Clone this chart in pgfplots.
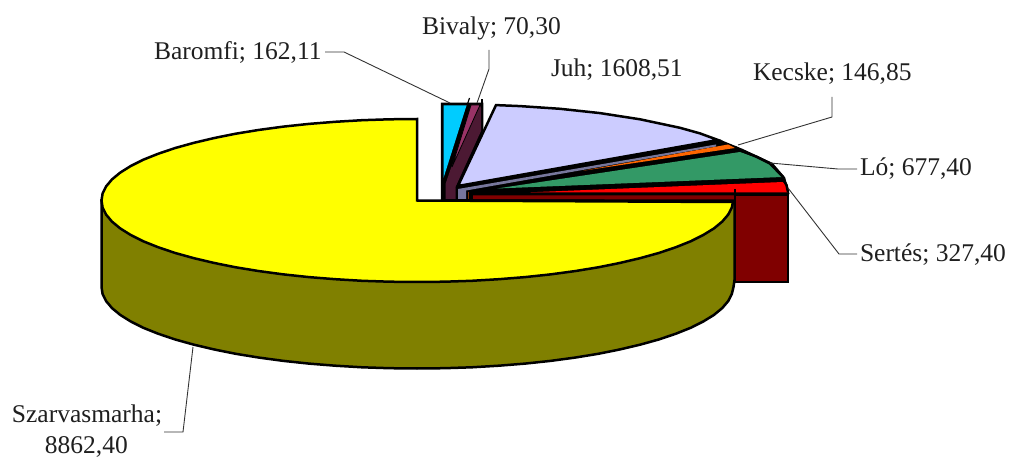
\documentclass[border=0pt]{standalone}
\usepackage{pgfplots}
\pgfplotsset{compat=1.18}
\usepackage{fontspec}
\setmainfont{Liberation Serif}
\definecolor{cCyan}{HTML}{00CCFF}
\definecolor{cMag}{HTML}{993366}
\definecolor{cMagD}{HTML}{4C1933}
\definecolor{cLav}{HTML}{CCCCFF}
\definecolor{cLavD}{HTML}{77779C}
\definecolor{cOr}{HTML}{FF6600}
\definecolor{cOrD}{HTML}{7F3300}
\definecolor{cGr}{HTML}{339966}
\definecolor{cDR}{HTML}{800000}
\definecolor{cOl}{HTML}{808000}
\definecolor{cYe}{RGB}{255,255,0}
\definecolor{cRe}{RGB}{255,0,0}
\tikzset{
  poly/.style={draw=black, line width=2.5pt, line join=miter},
  lead/.style={draw=black!80, line width=0.9pt, line join=miter},
  lab/.style={anchor=base west, inner sep=0pt, outer sep=0pt, text=black!88, font=\fontsize{25.5}{30}\selectfont},
}
\begin{document}
\begin{tikzpicture}
\begin{axis}[
  hide axis, scale only axis, width=1010pt, height=457pt,
  xmin=0, xmax=1010, ymin=0, ymax=457, y dir=reverse, clip=false,
]
% black base of the far left group
\addplot[poly, fill=black] coordinates {(442,104) (482,104) (482,130) (456,187) (456,200) (442,200)} -- cycle;
\addplot[draw=black, line width=1.2pt] coordinates {(467.5,104) (469.5,98)};
\addplot[draw=black, line width=1.2pt] coordinates {(482,104) (482,99)};
% Baromfi
\addplot[fill=cCyan, draw=none] coordinates {(443.5,105.5) (466.5,105.5) (443.5,178)} -- cycle;
% Bivaly side
\addplot[fill=cMagD, draw=none] coordinates {(445.5,184) (451,168) (480,105.5) (481,108) (481,131) (455.5,187) (455.5,199) (445.5,199)} -- cycle;
% Bivaly top
\addplot[fill=cMag, draw=black, line width=0.8pt] coordinates {(471,105) (480,105) (452,167)} -- cycle;
% black base of the right group
\addplot[poly, fill=black] coordinates {(458,186) (720,141) (742,150) (772,164) (784,178) (788,193) (735,200) (458,200)} -- cycle;
% Juh side
\addplot[fill=cLavD, draw=none] coordinates {(458,189) (716,144.5) (716,146.5) (466,190.5) (466,199) (458,199)} -- cycle;
\addplot[draw=cOrD, line width=0.8pt] coordinates {(468.5,192) (468.5,199)};
% Juh top
\addplot[poly, fill=cLav] coordinates {(458,186) (496,105.1) (520,106.1) (560,108.8) (600,113.1) (640,119.3) (680,127.8) (700,133.4) (718,140)} -- cycle;
% Kecske
\addplot[fill=cOr, draw=none] coordinates {(583,170.7) (728,144.5) (735,148)} -- cycle;
% Lo
\addplot[fill=cGr, draw=none] coordinates {(497,188.5) (740,152) (757,158) (770,164.5) (782,177)} -- cycle;
\addplot[draw=black, line width=2.5pt] coordinates {(735,147) (740,150) (757,157) (770,163.5) (783,177)};
% Sertes top
\addplot[fill=cRe, draw=none] coordinates {(530,192.3) (783,182) (786,186) (787.5,192.5)} -- cycle;
\addplot[draw=black, line width=2.5pt] coordinates {(783,179) (786.5,185) (788,192)};
% Sertes side
\addplot[fill=cDR, draw=none] coordinates {(473,195.5) (735,195.5) (735,199.5) (473,199)} -- cycle;
\addplot[poly, fill=cDR] coordinates {(735,194.5) (788,194.5) (788,282) (735,282)} -- cycle;
\addplot[draw=black, line width=1.2pt] coordinates {(735,189) (735,200)};
% Szarvasmarha side
\addplot[poly, fill=cOl] coordinates {(101.5,200.5) (101.5,287) (102.6,294.1) (106.1,301.1) (112,308.1) (120.2,314.9) (130.6,321.4) (143.3,327.8) (158.1,333.7) (174.9,339.4) (193.6,344.6) (213.9,349.4) (235.7,353.8) (259,357.6) (283.5,360.9) (308.9,363.6) (335.2,365.7) (362.1,367.3) (389.4,368.2) (417,368.5) (444.6,368.2) (471.9,367.3) (498.8,365.7) (525.1,363.6) (550.5,360.9) (575,357.6) (598.3,353.8) (620.1,349.4) (640.4,344.6) (659.1,339.4) (675.9,333.7) (690.7,327.8) (703.4,321.4) (714,314.9) (722.2,308.1) (728.2,301.1) (731.8,294.1) (733.5,287) (734.5,280) (734.5,202)} -- cycle;
% Szarvasmarha top
\addplot[poly, fill=cYe] coordinates {(417,200.5) (417,119) (389.4,119.3) (362.1,120.2) (335.2,121.8) (308.9,123.9) (283.5,126.6) (259,129.9) (235.7,133.7) (213.9,138.1) (193.6,142.9) (174.9,148.1) (158.1,153.8) (143.3,159.7) (130.6,166.1) (120.2,172.6) (112,179.4) (106.1,186.4) (102.6,193.4) (101.5,200.5) (102.6,207.6) (106.1,214.6) (112,221.6) (120.2,228.4) (130.6,234.9) (143.3,241.3) (158.1,247.2) (174.9,252.9) (193.6,258.1) (213.9,262.9) (235.7,267.3) (259,271.1) (283.5,274.4) (308.9,277.1) (335.2,279.2) (362.1,280.8) (389.4,281.7) (417,282) (444.6,281.7) (471.9,280.8) (498.8,279.2) (525.1,277.1) (550.5,274.4) (575,271.1) (598.3,267.3) (620.1,262.9) (640.4,258.1) (659.1,252.9) (675.9,247.2) (690.7,241.3) (703.4,234.9) (714,228.4) (722.2,221.6) (728.2,214.6) (731.8,207.6) (733,202)} -- cycle;
% leader lines
\addplot[lead] coordinates {(325,52) (344,52) (450,103)};
\addplot[lead] coordinates {(489,50) (489,69) (477,103)};
\addplot[lead] coordinates {(832,97) (832,117) (738,145)};
\addplot[lead] coordinates {(857,169) (838,169) (770,163)};
\addplot[lead] coordinates {(857,254) (839,254) (788,188)};
\addplot[lead] coordinates {(193,347) (183,432) (164,432)};
% labels
\node[lab] at (axis cs:154,60) {Baromfi; 162,11};
\node[lab] at (axis cs:422,35) {Bivaly; 70,30};
\node[lab] at (axis cs:551,77) {Juh; 1608,51};
\node[lab] at (axis cs:753,81) {Kecske; 146,85};
\node[lab] at (axis cs:860,176) {Ló; 677,40};
\node[lab] at (axis cs:860,262) {Sertés; 327,40};
\node[lab] at (axis cs:12,422) {Szarvasmarha;};
\node[lab] at (axis cs:45,453) {8862,40};
\end{axis}
\pgfresetboundingbox
\path[use as bounding box] (0,0) rectangle (1010pt,457pt);
\end{tikzpicture}
\end{document}
